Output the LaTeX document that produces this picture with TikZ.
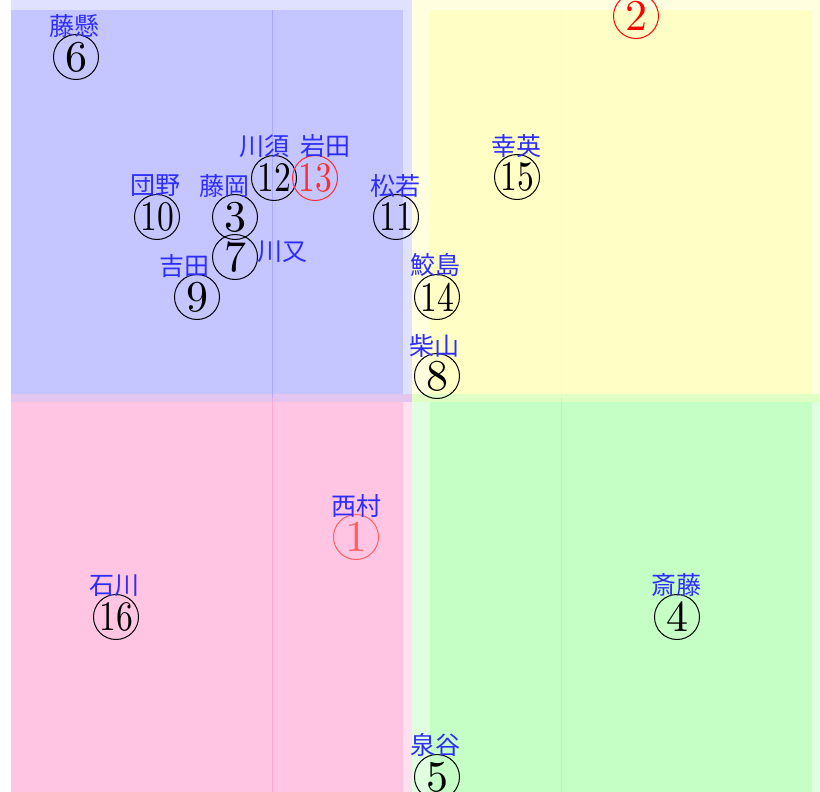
\documentclass[tikz,border=0pt]{standalone}
\usepackage{fontspec}
\usepackage{graphicx}
\usepackage{tikz}
\newfontfamily\jpfont{Noto Sans CJK JP}
\newfontfamily\suuji{lmroman10-regular.otf}
\definecolor{aoku}{RGB}{0,0,255}
\definecolor{kiiro}{RGB}{255,255,0}
\definecolor{momo}{RGB}{255,0,128}
\definecolor{midori}{RGB}{0,255,0}
\definecolor{namae}{RGB}{45,45,255}
\definecolor{aka}{RGB}{255,0,0}
\definecolor{akaChu}{RGB}{255,45,45}
\definecolor{akaUsu}{RGB}{255,95,95}
\newcommand{\maru}[1]{\suuji\fontsize{44}{44}\selectfont #1}
\newcommand{\maruW}[1]{\scalebox{0.8}[1]{\suuji\fontsize{42}{42}\selectfont #1}}

\begin{document}
\begin{tikzpicture}[x=1pt,y=-1pt,
  ryoiki/.style={opacity=0.12},
  sen/.style={line width=0.8pt,opacity=0.14},
  maruNode/.style={circle,draw,line width=1pt,inner sep=0pt,minimum size=45pt},
  mei/.style={text=namae,font=\jpfont\fontsize{25}{25}\selectfont,inner sep=0pt}]
\useasboundingbox (0,0) rectangle (820,792);
\clip (0,0) rectangle (820,792);
% four areas, outer and inner
\fill[aoku,ryoiki] (11,0) rectangle (412,402);
\fill[momo,ryoiki] (11,394) rectangle (412,792);
\fill[kiiro,ryoiki] (412,0) rectangle (820,402);
\fill[midori,ryoiki] (412,394) rectangle (820,792);
\fill[aoku,ryoiki] (11,10) rectangle (403,394);
\fill[momo,ryoiki] (11,402) rectangle (403,792);
\fill[kiiro,ryoiki] (430,10) rectangle (812,394);
\fill[midori,ryoiki] (430,402) rectangle (812,792);
\draw[aoku,sen] (272,10) -- (272,398);
\draw[momo,sen] (272,398) -- (272,792);
\draw[kiiro,sen] (561,10) -- (561,398);
\draw[midori,sen] (561,398) -- (561,792);
% players
\node[maruNode] (n6) at (76,57) {\maru{6}};
\node[maruNode] (n12) at (274,178) {\maruW{12}};
\node[maruNode,draw=akaChu,text=akaChu] (n13) at (315,178) {\maruW{13}};
\node[maruNode] (n10) at (157,217) {\maruW{10}};
\node[maruNode] (n3) at (235,217) {\maru{3}};
\node[maruNode] (n7) at (235,257) {\maru{7}};
\node[maruNode] (n9) at (197,297) {\maru{9}};
\node[maruNode] (n11) at (396,217) {\maruW{11}};
\node[maruNode,draw=aka,text=aka] (n2) at (636,16) {\maru{2}};
\node[maruNode] (n15) at (517,177) {\maruW{15}};
\node[maruNode] (n14) at (437,297) {\maruW{14}};
\node[maruNode] (n8) at (437,376) {\maru{8}};
\node[maruNode,draw=akaUsu,text=akaUsu] (n1) at (356,537) {\maru{1}};
\node[maruNode] (n16) at (116,617) {\maruW{16}};
\node[maruNode] (n4) at (677,617) {\maru{4}};
\node[maruNode] (n5) at (437,777) {\maru{5}};
% names
\node[mei] (l6) at (74,26) {藤懸};
\node[mei] (l12) at (264,146) {川須};
\node[mei] (l13) at (325,146) {岩田};
\node[mei] (l10) at (155,186) {団野};
\node[mei] (l3) at (224,186) {藤岡};
\node[mei] (l7) at (282,252) {川又};
\node[mei] (l9) at (184,266) {吉田};
\node[mei] (l11) at (395,186) {松若};
\node[mei] (l15) at (516,146) {幸英};
\node[mei] (l14) at (435,265) {鮫島};
\node[mei] (l8) at (434,346) {柴山};
\node[mei] (l1) at (356,506) {西村};
\node[mei] (l16) at (114,586) {石川};
\node[mei] (l4) at (676,585) {斎藤};
\node[mei] (l5) at (435,745) {泉谷};
\end{tikzpicture}
\end{document}
